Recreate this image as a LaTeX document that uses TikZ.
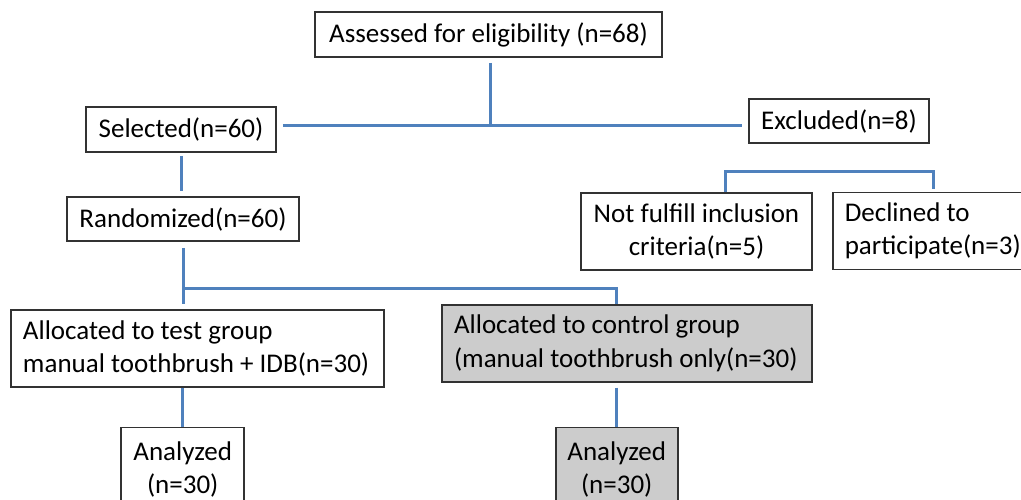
\documentclass[tikz,border=0pt]{standalone}
\usepackage{fontspec}
\setmainfont{Carlito}
\usetikzlibrary{calc}
\definecolor{linkblue}{RGB}{79,129,189}
\definecolor{boxgray}{RGB}{204,204,204}
\definecolor{boxedge}{RGB}{50,50,50}
\begin{document}
\begin{tikzpicture}[x=1pt,y=1pt,
 box/.style={draw=boxedge, line width=1.6pt, inner sep=0pt, font=\fontsize{27}{33.5}\selectfont, align=flush center},
 leftbox/.style={box, align=flush left, inner xsep=12pt},
 grayfill/.style={fill=boxgray},
 conn/.style={draw=linkblue, line width=3pt}]
\useasboundingbox (0,0) rectangle (1021,-499);
\fill[white] (0,0) rectangle (1021,-499);
\node[box, minimum width=347pt, minimum height=45pt] (assessed) at (488.5,-34.5) {Assessed for eligibility (n=68)};
\node[box, minimum width=190pt, minimum height=45pt] (selected) at (181,-129.5) {Selected(n=60)};
\node[box, minimum width=180pt, minimum height=44pt] (excluded) at (839,-121) {Excluded(n=8)};
\node[box, minimum width=232pt, minimum height=44pt] (randomized) at (183,-219) {Randomized(n=60)};
\node[box, minimum width=231pt, minimum height=77pt] (notfulfill) at (696.5,-231.5) {Not fulfill inclusion\\criteria(n=5)};
\node[leftbox, text width=185pt, minimum height=77pt, anchor=west] (declined) at (832,-231) {\mbox{Declined to}\\\mbox{participate(n=3)}};
\node[leftbox, text width=349pt, minimum height=77pt] (testgrp) at (197.5,-348.5) {\mbox{Allocated to test group}\\\mbox{manual toothbrush + IDB(n=30)}};
\node[leftbox, grayfill, text width=346pt, minimum height=77pt] (ctrlgrp) at (627,-343.3) {\mbox{Allocated to control group}\\\mbox{(manual toothbrush only(n=30)}};
\node[box, minimum width=123pt, minimum height=84pt, anchor=north] (analyzedA) at (182.7,-426.7) {Analyzed\\(n=30)};
\node[box, grayfill, minimum width=122pt, minimum height=84pt, anchor=north] (analyzedB) at (616.7,-426.7) {Analyzed\\(n=30)};
% connectors
\coordinate (j1) at (490,-125);
\draw[conn] ($(assessed.south)+(1.5,-5)$) -- (j1);
\draw[conn] ($(selected.east |- j1)+(6,0)$) -- ($(excluded.west |- j1)+(-6,0)$);
\draw[conn] ($(selected.south)+(0,-3)$) -- ($(selected.south |- randomized.north)+(0,5)$);
\coordinate (r1) at (183,-288);
\coordinate (r2) at (616.7,-288);
\draw[conn] ($(randomized.south)+(0,-6)$) -- ($(randomized.south |- testgrp.north)+(0,5)$);
\draw[conn] (r1) -- (r2) -- (r2 |- ctrlgrp.north);
\draw[conn] (testgrp.south -| analyzedA.north) -- (analyzedA.north);
\draw[conn] ($(ctrlgrp.south -| analyzedB.north)+(0,-5)$) -- (analyzedB.north);
\coordinate (b1) at (725,-171);
\coordinate (b2) at (933,-171);
\draw[conn] (notfulfill.north -| b1) -- (b1) -- (b2) -- ($(declined.north -| b2)+(0,3)$);
\end{tikzpicture}
\end{document}
